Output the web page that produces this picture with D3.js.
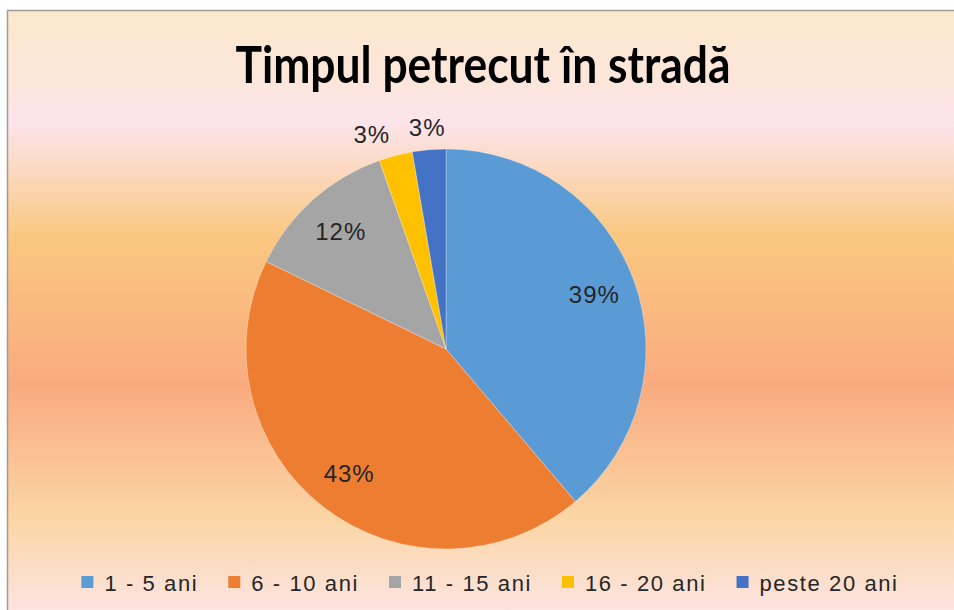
<!DOCTYPE html>
<html lang="ro">
<head>
<meta charset="UTF-8">
<title>Timpul petrecut în stradă</title>
<script src="https://cdn.jsdelivr.net/npm/d3@7"></script>
<style>
    body { margin: 0; background: #fff; }
    svg { display: block; }
</style>
</head>
<body>
<div id="chart"></div>
<script>
    // data
    const categories = ["1 - 5 ani", "6 - 10 ani", "11 - 15 ani", "16 - 20 ani", "peste 20 ani"];
    const shares = [38.8, 43.4, 12.4, 2.7, 2.7];
    const colors = ["#5B9BD5", "#ED7D31", "#A5A5A5", "#FFC000", "#4472C4"];
    const title = "Timpul petrecut în stradă";

    const width = 954, height = 610;
    const cx = 446, cy = 349, radius = 200;

    const svg = d3.select("#chart").append("svg")
        .attr("width", width)
        .attr("height", height);

    // background gradient of the chart area
    const grad = svg.append("defs").append("linearGradient")
        .attr("id", "bg").attr("x1", 0).attr("y1", 0).attr("x2", 0).attr("y2", 1);
    [[0, "#FBE8CB"], [0.12, "#FCE6DC"], [0.18, "#FCE4EC"], [0.24, "#FCDCCB"],
     [0.37, "#F9C77F"], [0.61, "#F9AB80"], [0.83, "#FBD6A6"], [0.96, "#FCE2DA"], [1, "#FDE4E4"]]
        .forEach(([o, c]) => grad.append("stop").attr("offset", o).attr("stop-color", c));

    svg.append("rect")
        .attr("x", 7.5).attr("y", 10.5)
        .attr("width", 970).attr("height", 615)
        .attr("fill", "url(#bg)")
        .attr("stroke", "#9c9c9c")
        .attr("stroke-width", 1.5);

    // title
    svg.append("text")
        .attr("x", 483).attr("y", 83)
        .attr("text-anchor", "middle")
        .attr("font-family", "Lato, 'Open Sans', sans-serif")
        .attr("font-weight", "bold")
        .attr("font-size", 52)
        .attr("textLength", 495)
        .attr("lengthAdjust", "spacingAndGlyphs")
        .attr("fill", "#000")
        .text(title);

    // pie
    const pie = d3.pie().sort(null).value(d => d)(shares);
    const arc = d3.arc().innerRadius(0).outerRadius(radius);
    const g = svg.append("g").attr("transform", `translate(${cx},${cy})`);

    g.selectAll("path")
        .data(pie)
        .enter()
        .append("path")
        .attr("d", arc)
        .attr("fill", (d, i) => colors[i])
        .attr("stroke", "#fff")
        .attr("stroke-opacity", 0.5)
        .attr("stroke-width", 0.6);

    // labels: inside for the big slices, just outside for the tiny ones
    const inside = d3.arc().innerRadius(radius * 0.79).outerRadius(radius * 0.79);
    const outside = d3.arc().innerRadius(radius + 22).outerRadius(radius + 22);

    g.selectAll("text.pct")
        .data(pie)
        .enter()
        .append("text")
        .attr("class", "pct")
        .each(function (d) {
            const small = d.data < 5;
            const [x, y] = (small ? outside : inside).centroid(d);
            d3.select(this)
                .attr("x", x).attr("y", y)
                .attr("text-anchor", small && x < -30 ? "end" : "middle");
        })
        .attr("dy", "0.35em")
        .attr("font-family", "'Liberation Sans', Arial, sans-serif")
        .attr("font-size", 24)
        .attr("letter-spacing", 1)
        .attr("fill", "#262626")
        .text(d => Math.round(d.data) + "%");

    // legend
    const legend = svg.append("g");
    const items = legend.selectAll("g")
        .data(categories)
        .enter()
        .append("g");

    items.append("rect")
        .attr("y", 576)
        .attr("width", 12).attr("height", 12)
        .attr("fill", (d, i) => colors[i]);

    items.append("text")
        .attr("x", 23).attr("y", 591)
        .attr("font-family", "'Liberation Sans', Arial, sans-serif")
        .attr("font-size", 22)
        .attr("letter-spacing", 1.6)
        .attr("fill", "#262626")
        .text(d => d);

    let xPos = 0;
    items.each(function () {
        const w = d3.select(this).select("text").node().getComputedTextLength();
        d3.select(this).attr("transform", `translate(${xPos},0)`);
        xPos += 23 + w + 30;
    });
    const total = xPos - 30;
    legend.attr("transform", `translate(${490 - total / 2},0)`);
</script>
</body>
</html>
